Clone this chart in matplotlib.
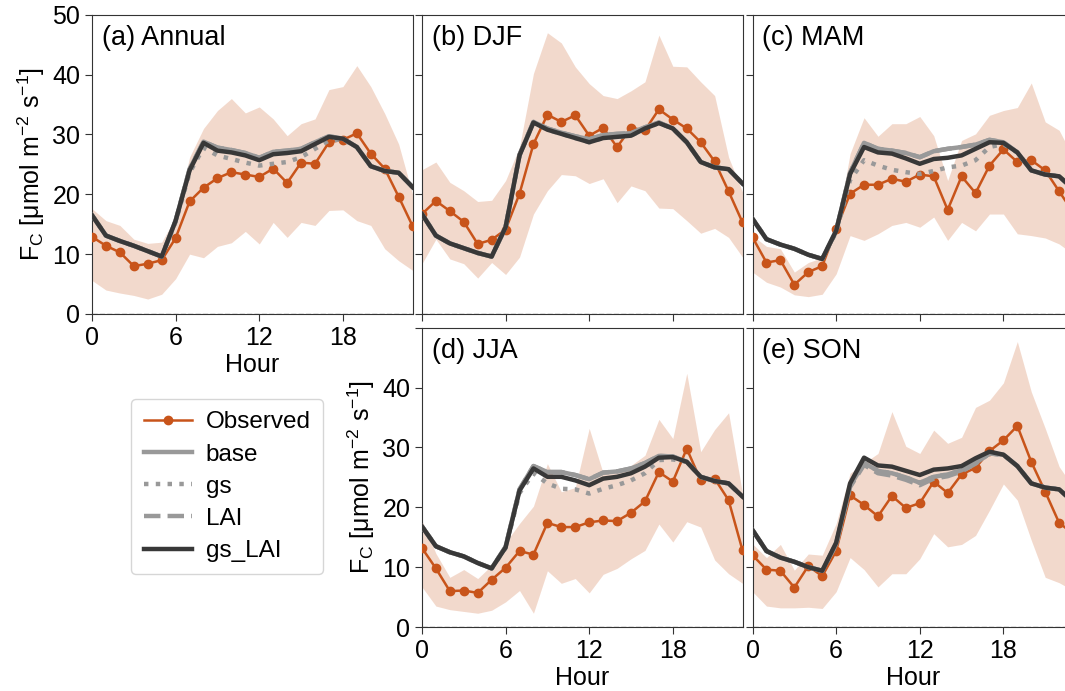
import numpy as np
import matplotlib
matplotlib.use("Agg")
import matplotlib.pyplot as plt

plt.rcParams['font.family'] = ['Liberation Sans', 'DejaVu Sans']
plt.rcParams['mathtext.fontset'] = 'custom'
plt.rcParams['mathtext.rm'] = 'Liberation Sans'
plt.rcParams['mathtext.it'] = 'Liberation Sans:italic'
plt.rcParams['font.size'] = 18

hours = np.arange(24)

# ---- (a) Annual
obs_a = [12.9, 11.4, 10.3, 8.0, 8.4, 9.0, 12.7, 18.8, 21.1, 22.7, 23.7, 23.3,
         22.9, 24.3, 21.9, 25.3, 25.1, 28.7, 29.1, 30.2, 26.8, 24.3, 19.6, 14.7]
hi_a = [17.6, 15.6, 14.8, 12.5, 11.8, 12.0, 16.2, 26.2, 31.0, 34.0, 36.0, 33.6,
        34.6, 32.6, 29.8, 31.8, 32.6, 37.5, 38.0, 41.5, 38.0, 33.5, 28.4, 20.0]
lo_a = [5.6, 4.0, 3.5, 3.1, 2.5, 3.3, 5.9, 10.0, 9.4, 11.3, 11.9, 13.8,
        11.7, 15.3, 12.8, 15.3, 14.8, 17.3, 17.4, 15.6, 14.8, 10.9, 8.9, 7.3]
gslai_a = [16.5, 13.1, 12.2, 11.4, 10.5, 9.6, 15.6, 24.0, 28.6, 27.3, 27.0, 26.5,
           25.7, 26.7, 26.9, 27.2, 28.4, 29.6, 29.3, 27.9, 24.7, 23.9, 23.6, 21.2]
base_a = [16.5, 13.1, 12.2, 11.4, 10.5, 9.6, 15.6, 24.2, 28.8, 27.8, 27.4, 26.9,
          26.1, 27.1, 27.3, 27.6, 28.7, 29.7, 29.3, 27.9, 24.7, 23.9, 23.6, 21.2]
gs_a = [16.5, 13.1, 12.2, 11.4, 10.5, 9.6, 15.4, 23.6, 27.8, 26.5, 25.9, 25.3,
        24.8, 25.1, 25.4, 26.2, 27.6, 29.0, 29.2, 27.9, 24.7, 23.9, 23.6, 21.2]
lai_a = base_a

# ---- (b) DJF
obs_b = [16.7, 18.9, 17.2, 15.4, 11.7, 12.4, 14.1, 20.1, 28.4, 33.3, 32.1, 33.2,
         29.8, 31.1, 27.9, 31.1, 30.7, 34.2, 32.5, 31.0, 28.7, 25.5, 20.5, 15.3]
hi_b = [24.1, 25.4, 22.0, 20.6, 18.8, 19.0, 22.3, 27.9, 40.2, 47.0, 45.3, 41.3,
        38.5, 36.5, 36.0, 37.3, 38.8, 46.6, 41.4, 41.3, 38.8, 36.5, 26.2, 20.4]
lo_b = [8.4, 12.5, 9.2, 8.4, 6.0, 8.6, 6.6, 9.5, 16.7, 20.6, 23.3, 23.1,
        21.8, 22.6, 18.6, 21.4, 20.6, 17.7, 17.6, 15.6, 13.5, 14.3, 12.8, 9.5]
gslai_b = [16.7, 13.1, 11.8, 11.0, 10.2, 9.6, 14.5, 26.5, 32.0, 30.8, 30.1, 29.4,
           28.7, 29.4, 29.6, 29.8, 31.0, 31.9, 31.0, 28.7, 25.4, 24.5, 24.2, 21.8]
base_b = [16.7, 13.1, 11.8, 11.0, 10.2, 9.6, 14.5, 26.6, 32.1, 31.0, 30.3, 29.7,
          29.2, 29.9, 30.1, 30.2, 31.2, 32.0, 31.0, 28.7, 25.4, 24.5, 24.2, 21.8]
gs_b = gslai_b
lai_b = base_b

# ---- (c) MAM
obs_c = [12.8, 8.6, 9.0, 4.9, 7.0, 8.0, 14.2, 20.1, 21.6, 21.6, 22.6, 22.1,
         23.3, 23.0, 17.4, 23.0, 20.2, 24.8, 27.5, 25.4, 25.7, 24.0, 20.5, 17.0]
hi_c = [13.1, 11.3, 10.9, 7.0, 8.6, 9.4, 13.9, 26.8, 32.8, 29.7, 31.8, 31.8,
        33.0, 29.8, 22.3, 29.0, 30.1, 33.2, 34.0, 34.5, 38.6, 32.1, 30.7, 26.2]
lo_c = [7.0, 5.3, 4.5, 3.2, 2.9, 3.3, 6.7, 13.1, 12.3, 13.4, 14.8, 15.3,
        14.5, 16.2, 12.3, 15.3, 13.9, 16.7, 16.7, 13.4, 13.1, 12.7, 11.7, 10.0]
gslai_c = [15.9, 12.5, 11.6, 10.9, 9.9, 9.2, 13.9, 23.4, 27.9, 27.0, 26.8, 26.0,
           25.1, 25.9, 26.1, 26.5, 27.6, 28.7, 28.6, 27.0, 24.0, 23.3, 23.0, 20.9]
base_c = [15.9, 12.5, 11.6, 10.9, 9.9, 9.2, 13.9, 23.6, 28.6, 27.6, 27.3, 26.9,
          26.2, 27.2, 27.6, 27.9, 28.3, 29.1, 28.7, 27.0, 24.0, 23.3, 23.0, 20.9]
gs_c = [15.9, 12.5, 11.6, 10.9, 9.9, 9.2, 13.7, 22.4, 25.7, 24.8, 24.1, 23.7,
        23.4, 23.9, 24.5, 24.8, 25.7, 27.9, 28.4, 27.0, 24.0, 23.3, 23.0, 20.9]
lai_c = base_c

# ---- (d) JJA
obs_d = [13.2, 9.8, 6.0, 6.1, 5.7, 7.9, 9.9, 12.7, 12.1, 17.4, 16.7, 16.7,
         17.5, 17.8, 17.7, 19.1, 21.0, 25.9, 24.3, 29.8, 24.5, 24.8, 21.2, 12.8]
hi_d = [17.8, 12.3, 8.3, 9.6, 8.1, 10.3, 14.1, 17.3, 20.2, 27.3, 22.6, 23.3,
        33.2, 25.7, 26.0, 27.0, 28.7, 34.7, 31.5, 42.4, 29.3, 33.0, 35.8, 22.3]
lo_d = [6.7, 3.5, 2.9, 2.6, 2.3, 2.8, 4.2, 6.1, 2.3, 9.4, 7.3, 8.1,
        5.7, 8.8, 9.8, 11.4, 12.8, 17.2, 14.2, 17.6, 16.7, 11.2, 8.9, 7.3]
gslai_d = [16.8, 13.5, 12.5, 11.8, 10.7, 9.8, 13.3, 22.8, 26.5, 25.1, 25.1, 24.5,
           23.7, 24.8, 25.1, 25.7, 26.8, 28.3, 28.4, 27.6, 25.1, 24.4, 24.0, 21.8]
base_d = [16.8, 13.5, 12.5, 11.8, 10.7, 9.8, 13.4, 23.0, 26.9, 25.9, 25.9, 25.4,
          24.7, 25.8, 26.0, 26.5, 27.4, 28.6, 28.5, 27.6, 25.1, 24.4, 24.0, 21.8]
gs_d = [16.8, 13.5, 12.5, 11.8, 10.7, 9.8, 13.2, 22.4, 25.7, 24.0, 23.1, 23.0,
        22.3, 23.1, 23.7, 24.5, 25.7, 27.9, 28.0, 27.6, 25.1, 24.4, 24.0, 21.8]
lai_d = base_d

# ---- (e) SON
obs_e = [12.0, 9.6, 9.4, 6.6, 10.2, 8.5, 12.7, 22.0, 20.4, 18.5, 21.9, 19.9,
         20.7, 24.3, 22.4, 25.5, 26.6, 29.4, 31.2, 33.6, 27.6, 22.6, 17.4, 15.6]
hi_e = [13.9, 11.6, 13.8, 9.5, 12.2, 12.0, 17.3, 25.7, 27.4, 29.0, 36.0, 30.2,
        29.0, 32.9, 30.7, 31.7, 36.7, 37.9, 40.8, 47.7, 39.3, 33.2, 26.8, 23.4]
lo_e = [5.9, 3.5, 3.2, 3.2, 3.3, 3.1, 5.9, 11.6, 9.6, 6.7, 8.9, 8.9,
        11.4, 15.6, 13.4, 13.8, 15.3, 19.5, 23.9, 21.2, 14.5, 8.3, 7.4, 6.1]
gslai_e = [16.2, 12.7, 11.6, 10.9, 10.0, 9.4, 14.1, 24.0, 28.3, 27.0, 26.8, 26.1,
           25.4, 26.3, 26.5, 26.9, 28.2, 29.3, 28.8, 26.9, 24.0, 23.3, 23.0, 20.9]
base_e = [16.2, 12.7, 11.6, 10.9, 10.0, 9.4, 13.9, 23.6, 27.4, 26.1, 25.7, 25.0,
          24.1, 25.1, 25.5, 26.2, 27.4, 29.0, 28.8, 26.9, 24.0, 23.3, 23.0, 20.9]
gs_e = base_e
lai_e = [16.2, 12.7, 11.6, 10.9, 10.0, 9.4, 13.8, 23.4, 27.1, 25.7, 25.3, 24.6,
         23.7, 24.8, 25.2, 26.0, 27.3, 29.0, 28.8, 26.9, 24.0, 23.3, 23.0, 20.9]

panels = [
    ("(a) Annual", obs_a, lo_a, hi_a, base_a, gs_a, lai_a, gslai_a),
    ("(b) DJF", obs_b, lo_b, hi_b, base_b, gs_b, lai_b, gslai_b),
    ("(c) MAM", obs_c, lo_c, hi_c, base_c, gs_c, lai_c, gslai_c),
    ("(d) JJA", obs_d, lo_d, hi_d, base_d, gs_d, lai_d, gslai_d),
    ("(e) SON", obs_e, lo_e, hi_e, base_e, gs_e, lai_e, gslai_e),
]

obs_col = '#c8541a'
ylab = r'F$_\mathrm{C}$ [$\mathrm{\mu}$mol m$^{-2}$ s$^{-1}$]'

fig = plt.figure(figsize=(10.65, 6.91), dpi=100)
w, h = 0.301, 0.433
rects = [
    (0.0864, 0.5456, w, h),
    (0.3962, 0.5456, w, h),
    (0.7066, 0.5456, w, h),
    (0.3962, 0.0926, w, h),
    (0.7066, 0.0926, w, h),
]

for i, (rect, p) in enumerate(zip(rects, panels)):
    title, obs, lo, hi, base, gs, lai, gslai = p
    ax = fig.add_axes(rect)
    ax.fill_between(hours, lo, hi, color=obs_col, alpha=0.22, lw=0)
    ax.plot(hours, obs, '-o', color=obs_col, lw=1.8, ms=6, label='Observed', zorder=3)
    ax.plot(hours, base, '-', color='#999999', lw=3.2, label='base', zorder=4)
    ax.plot(hours, gs, ':', color='#999999', lw=3.2, label='gs', zorder=4)
    ax.plot(hours, lai, '--', color='#999999', lw=3.2, label='LAI', zorder=4)
    ax.plot(hours, gslai, '-', color='#383838', lw=3.2, label='gs_LAI', zorder=5)
    ax.axhline(0, color='#888888', ls='--', lw=1, zorder=1)
    ax.set_xlim(0, 23)
    ax.set_ylim(0, 50)
    ax.set_xticks([0, 6, 12, 18])
    ax.set_yticks([0, 10, 20, 30, 40, 50])
    ax.text(0.03, 0.965, title, transform=ax.transAxes, ha='left', va='top', fontsize=19.5)
    for s in ax.spines.values():
        s.set_color('#333333')
    ax.tick_params(colors='#333333', labelcolor='black', length=5, labelsize=18)
    if i in (1, 2):
        ax.set_xticklabels([])
        ax.set_yticklabels([])
    if i == 4:
        ax.set_yticklabels([])
    if i == 3:
        ax.set_yticklabels(['0', '10', '20', '30', '40', ''])
    if i in (0, 3):
        ax.set_ylabel(ylab, fontsize=18, labelpad=4)
    if i in (0, 3, 4):
        ax.set_xlabel('Hour', fontsize=18, labelpad=2)
    if i == 0:
        handles, labels = ax.get_legend_handles_labels()

fig.legend(handles, labels, loc='upper left', bbox_to_anchor=(0.112, 0.44),
           fontsize=17.5, handlelength=2.0, handletextpad=0.55, frameon=True,
           borderpad=0.5, labelspacing=0.42)

fig.savefig('out.png', dpi=100)
